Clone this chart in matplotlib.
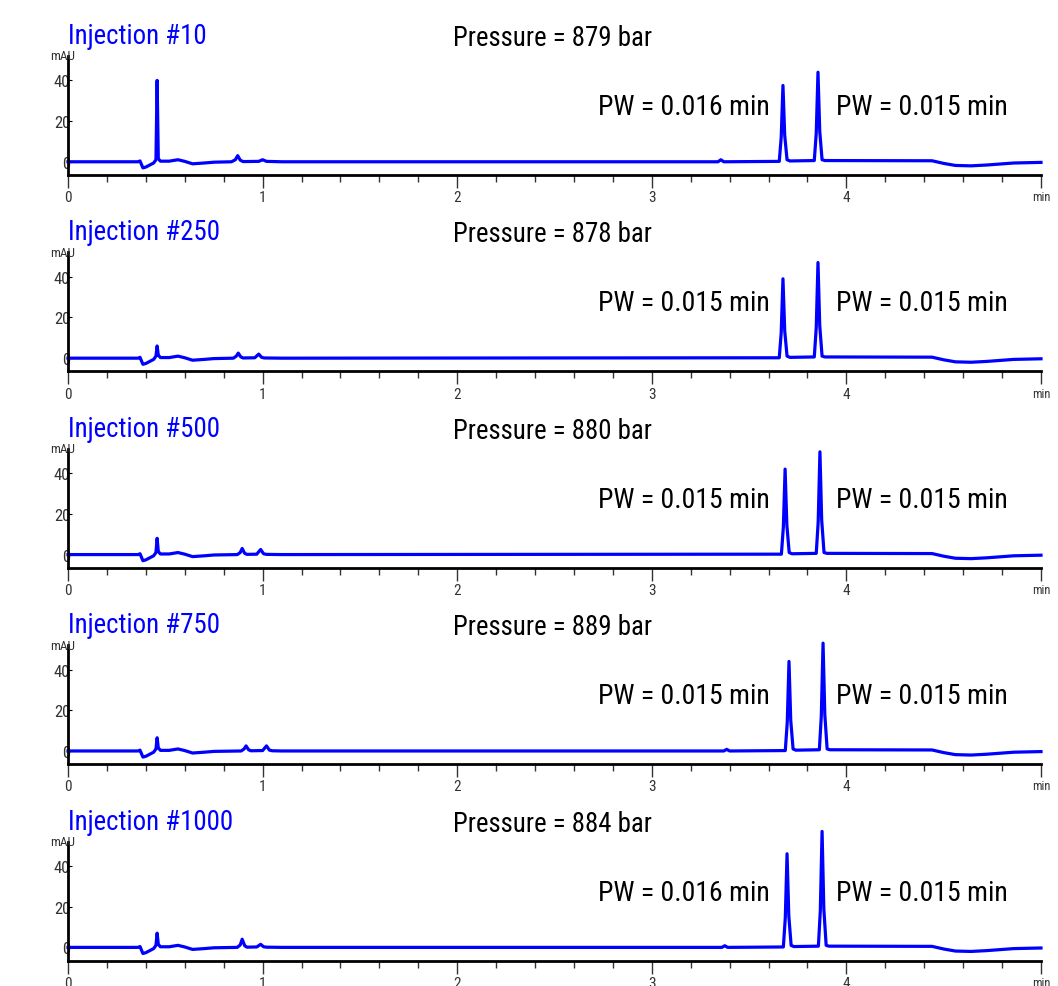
import matplotlib.pyplot as plt
from matplotlib import font_manager as fm
from matplotlib.ticker import MultipleLocator

# Chromatogram traces: (time in min, signal in mAU)
t_10 = [0.00, 0.36, 0.37, 0.385, 0.40, 0.44, 0.452, 0.458, 0.464, 0.475, 0.52, 0.565, 0.60, 0.64, 0.70, 0.75,
        0.84, 0.86, 0.872, 0.885, 0.90, 0.98, 1.00, 1.02, 1.10, 3.34, 3.355, 3.37,
        3.655, 3.665, 3.674, 3.683, 3.695, 3.71, 3.835, 3.845, 3.854, 3.863, 3.875, 3.89,
        4.44, 4.50, 4.56, 4.64, 4.72, 4.86, 5.00]
y_10 = [0.0, 0.0, 0.4, -3.0, -2.6, -0.6, 1.0, 40.0, 1.5, 0.3, 0.3, 1.0, 0.2, -1.0, -0.6, -0.2,
        0.0, 1.0, 3.0, 0.8, 0.1, 0.2, 1.0, 0.2, 0.0, 0.0, 1.0, 0.0,
        0.2, 12.0, 37.5, 13.0, 1.0, 0.4, 0.6, 14.0, 44.0, 15.0, 1.0, 0.6,
        0.5, -0.8, -1.8, -2.0, -1.6, -0.6, -0.3]

t_250 = [0.00, 0.36, 0.37, 0.385, 0.40, 0.44, 0.452, 0.458, 0.464, 0.475, 0.52, 0.565, 0.60, 0.64, 0.70, 0.75,
         0.85, 0.865, 0.875, 0.888, 0.90, 0.96, 0.98, 0.995, 1.01, 1.10,
         3.655, 3.665, 3.674, 3.683, 3.695, 3.71, 3.835, 3.845, 3.854, 3.863, 3.875, 3.89,
         4.44, 4.50, 4.56, 4.64, 4.72, 4.86, 5.00]
y_250 = [0.0, 0.0, 0.4, -3.0, -2.6, -0.6, 1.0, 6.0, 1.5, 0.3, 0.3, 1.0, 0.2, -1.0, -0.6, -0.2,
         0.0, 1.0, 2.5, 0.6, 0.1, 0.2, 2.0, 0.4, 0.1, 0.0,
         0.2, 12.5, 39.0, 13.5, 1.0, 0.4, 0.6, 15.0, 47.0, 16.0, 1.0, 0.6,
         0.5, -0.8, -1.8, -2.0, -1.6, -0.6, -0.3]

t_500 = [0.00, 0.36, 0.37, 0.385, 0.40, 0.44, 0.452, 0.458, 0.464, 0.475, 0.52, 0.565, 0.60, 0.64, 0.70, 0.75,
         0.87, 0.885, 0.895, 0.908, 0.92, 0.97, 0.99, 1.005, 1.02, 1.10,
         3.666, 3.676, 3.685, 3.694, 3.706, 3.72, 3.845, 3.855, 3.864, 3.873, 3.885, 3.90,
         4.44, 4.50, 4.56, 4.64, 4.72, 4.86, 5.00]
y_500 = [0.0, 0.0, 0.4, -3.0, -2.6, -0.6, 1.0, 8.0, 1.5, 0.3, 0.3, 1.0, 0.2, -1.0, -0.6, -0.2,
         0.0, 1.0, 3.0, 0.6, 0.1, 0.2, 2.5, 0.4, 0.1, 0.0,
         0.2, 13.5, 42.0, 14.5, 1.0, 0.4, 0.6, 16.0, 50.5, 17.0, 1.0, 0.6,
         0.5, -0.8, -1.8, -2.0, -1.6, -0.6, -0.3]

t_750 = [0.00, 0.36, 0.37, 0.385, 0.40, 0.44, 0.452, 0.458, 0.464, 0.475, 0.52, 0.565, 0.60, 0.64, 0.70, 0.75,
         0.89, 0.905, 0.915, 0.928, 0.94, 1.00, 1.02, 1.035, 1.05, 1.10, 3.37, 3.385, 3.40,
         3.686, 3.696, 3.705, 3.714, 3.726, 3.74, 3.861, 3.871, 3.88, 3.889, 3.901, 3.915,
         4.44, 4.50, 4.56, 4.64, 4.72, 4.86, 5.00]
y_750 = [0.0, 0.0, 0.4, -3.0, -2.6, -0.6, 1.0, 6.5, 1.5, 0.3, 0.3, 1.0, 0.2, -1.0, -0.6, -0.2,
         0.0, 1.0, 2.5, 0.6, 0.1, 0.2, 2.5, 0.4, 0.1, 0.0, 0.0, 0.8, 0.0,
         0.2, 14.0, 44.0, 15.0, 1.0, 0.4, 0.6, 17.0, 53.0, 18.0, 1.0, 0.6,
         0.5, -0.8, -1.8, -2.0, -1.6, -0.6, -0.3]

t_1000 = [0.00, 0.36, 0.37, 0.385, 0.40, 0.44, 0.452, 0.458, 0.464, 0.475, 0.52, 0.565, 0.60, 0.64, 0.70, 0.75,
          0.87, 0.885, 0.895, 0.908, 0.92, 0.97, 0.99, 1.005, 1.02, 1.10, 3.36, 3.375, 3.39,
          3.676, 3.686, 3.695, 3.704, 3.716, 3.73, 3.856, 3.866, 3.875, 3.884, 3.896, 3.91,
          4.44, 4.50, 4.56, 4.64, 4.72, 4.86, 5.00]
y_1000 = [0.0, 0.0, 0.4, -3.0, -2.6, -0.6, 1.0, 7.0, 1.5, 0.3, 0.3, 1.0, 0.2, -1.0, -0.6, -0.2,
          0.0, 1.2, 4.0, 0.8, 0.1, 0.2, 1.5, 0.3, 0.1, 0.0, 0.0, 0.8, 0.0,
          0.2, 14.5, 46.0, 15.5, 1.0, 0.4, 0.6, 18.0, 57.0, 19.0, 1.0, 0.6,
          0.5, -0.8, -1.8, -2.0, -1.6, -0.6, -0.3]

injections = ['Injection #10', 'Injection #250', 'Injection #500', 'Injection #750', 'Injection #1000']
pressures = ['879', '878', '880', '889', '884']
pw_first = ['0.016', '0.015', '0.015', '0.015', '0.016']
pw_second = ['0.015', '0.015', '0.015', '0.015', '0.015']
traces = [(t_10, y_10), (t_250, y_250), (t_500, y_500), (t_750, y_750), (t_1000, y_1000)]


# look for a narrow / condensed face, the original uses a condensed sans
def find_condensed():
    prefer = ['Liberation Sans Narrow', 'Roboto Condensed', 'DejaVu Sans', 'Open Sans', 'Noto Sans']
    found = []
    for f in fm.fontManager.ttflist:
        cond = 'condensed' in str(f.stretch).lower() or 'Narrow' in f.name or 'Condensed' in f.name
        if cond and f.style == 'normal' and f.weight in ('normal', 'regular', 400, 'book'):
            found.append(f)
    for p in prefer:
        for f in found:
            if f.name == p or f.name.startswith(p):
                return f.fname
    if found:
        return found[0].fname
    return None


cond_path = find_condensed()


def big_font(size):
    if cond_path:
        return fm.FontProperties(fname=cond_path, size=size)
    return fm.FontProperties(family='DejaVu Sans', size=size)


def small_font(size):
    if cond_path:
        return fm.FontProperties(fname=cond_path, size=size)
    return fm.FontProperties(family='DejaVu Sans', size=size * 0.9)


blue = '#0000ff'
W, H = 1058, 987
fig = plt.figure(figsize=(W / 100, H / 100), dpi=100)

# size the big labels so "PW = 0.016 min" is ~172 px wide, as in the original
probe = fig.text(0, 0, 'PW = 0.016 min', fontproperties=big_font(20))
probe_w = probe.get_window_extent(fig.canvas.get_renderer()).width
probe.remove()
big_size = min(21.0, 20 * 172 / probe_w)
head_size = big_size * 0.965

for i in range(5):
    top = 57 + 196.4 * i
    bottom = 176 + 196.4 * i
    ax = fig.add_axes([68 / W, 1 - bottom / H, (1041 - 68) / W, (bottom - top) / H])
    t, y = traces[i]
    ax.plot(t, y, color=blue, lw=2.3, clip_on=False, solid_joinstyle='round')
    ax.set_xlim(0, 5)
    ax.set_ylim(-6.5, 52)

    for s in ['top', 'right']:
        ax.spines[s].set_visible(False)
    ax.spines['bottom'].set_linewidth(2.0)
    ax.spines['left'].set_linewidth(2.0)

    ax.set_xticks([0, 1, 2, 3, 4, 5])
    ax.set_xticklabels(['0', '1', '2', '3', '4', 'min'], color='#333333')
    for lab in ax.get_xticklabels():
        lab.set_fontproperties(small_font(11))
    ax.get_xticklabels()[-1].set_fontproperties(small_font(9))
    ax.xaxis.set_minor_locator(MultipleLocator(0.2))
    ax.tick_params(axis='x', which='major', length=9, width=1, color='#333333', pad=2)
    ax.tick_params(axis='x', which='minor', length=5, width=1, color='#333333')

    ax.set_yticks([0, 20, 40])
    ax.set_yticklabels(['0', '20', '40'], color='#333333')
    for lab in ax.get_yticklabels():
        lab.set_fontproperties(small_font(12))
    ax.tick_params(axis='y', direction='in', length=3, width=0.8, pad=-1.5)

    ax.text(-0.006, 1.0, 'mAU', transform=ax.transAxes, ha='center', va='center',
            fontproperties=small_font(9.5), color='#333333')

    ax.text(0.0, 1.109, injections[i], transform=ax.transAxes, ha='left', va='baseline',
            fontproperties=big_font(head_size), color=blue)
    ax.text(0.396, 1.092, 'Pressure = ' + pressures[i] + ' bar', transform=ax.transAxes,
            ha='left', va='baseline', fontproperties=big_font(head_size), color='black')
    ax.text(0.545, 0.513, 'PW = ' + pw_first[i] + ' min', transform=ax.transAxes,
            ha='left', va='baseline', fontproperties=big_font(big_size), color='black')
    ax.text(0.789, 0.513, 'PW = ' + pw_second[i] + ' min', transform=ax.transAxes,
            ha='left', va='baseline', fontproperties=big_font(big_size), color='black')

fig.savefig('out.png', dpi=100)
